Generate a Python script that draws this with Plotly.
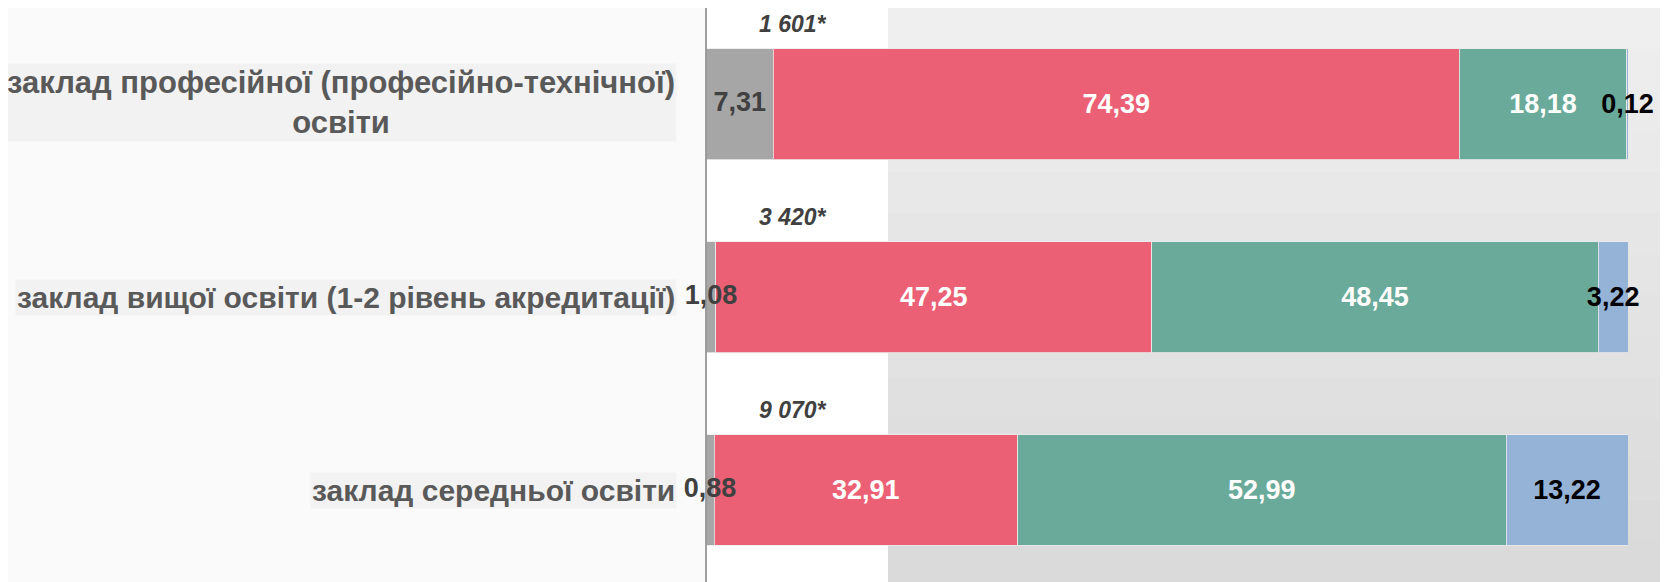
import plotly.graph_objects as go

# categories (top to bottom), share values in %
categories = [
    "заклад професійної (професійно-технічної)<br>освіти",
    "заклад вищої освіти (1-2 рівень акредитації)",
    "заклад середньої освіти",
]
totals = ["1 601*", "3 420*", "9 070*"]
gray_vals = [7.31, 1.08, 0.88]
red_vals = [74.39, 47.25, 32.91]
green_vals = [18.18, 48.45, 52.99]
blue_vals = [0.12, 3.22, 13.22]

FONT = "Liberation Sans, Arial, sans-serif"


def fmt(v):
    return f"{v:.2f}".replace(".", ",")


ypos = list(range(len(categories)))

# (values, bar colour, label colour, show label inside bar)
series = [
    (gray_vals, "#a6a6a6", "#404040", False),
    (red_vals, "#ec6075", "white", True),
    (green_vals, "#6aaa9a", "white", True),
    (blue_vals, "#95b3d7", "black", True),
]

fig = go.Figure()
for vals, color, tcolor, inside in series:
    fig.add_trace(go.Bar(
        x=vals, y=ypos, orientation="h", width=0.575,
        marker=dict(color=color, line=dict(color="rgba(235,235,235,0.8)", width=1)),
        text=[fmt(v) for v in vals] if inside else None,
        textposition="inside" if inside else "none", textangle=0,
        insidetextanchor="middle", constraintext="none", cliponaxis=False,
        textfont=dict(color=tcolor, family=FONT, size=27, weight="bold"),
        hoverinfo="skip",
    ))

# grey-segment labels drawn on top of the other bars
fig.add_trace(go.Scatter(
    x=[v / 2 for v in gray_vals], y=ypos, mode="text",
    text=[fmt(v) for v in gray_vals], textposition="middle center",
    textfont=dict(color="#404040", family=FONT, size=27, weight="bold"),
    cliponaxis=False, hoverinfo="skip",
))

# page offsets: the figure sits 8px inside the page
L, PW = 698, 922
shapes = []
gx0 = (880 - L) / PW
gx1 = (1660 - L) / PW
n = 14
for i in range(n):
    c = int(239 - (239 - 218) * i / (n - 1))
    shapes.append(dict(type="rect", xref="paper", yref="paper", x0=gx0, x1=gx1,
                       y0=1 - (i + 1) / n, y1=1 - i / n,
                       fillcolor=f"rgb({c},{c},{c})", line_width=0, layer="below"))
# white strip next to axis
shapes.append(dict(type="rect", xref="paper", yref="paper", x0=0, x1=gx0,
                   y0=0, y1=1, fillcolor="white", line_width=0, layer="below"))
# vertical axis line
shapes.append(dict(type="line", xref="paper", yref="paper", x0=0, x1=0, y0=0, y1=1,
                   line=dict(color="#808080", width=1.5), layer="above"))

annotations = []
shifts = [2, 0, 0]
label_sizes = [31, 30, 30]
for i, cat in enumerate(categories):
    annotations.append(dict(
        x=-0.0315, y=i, xref="paper", yref="y", xanchor="right", yanchor="middle",
        text=f"<b>{cat}</b>", showarrow=False, align="center", yshift=shifts[i],
        font=dict(family=FONT, size=label_sizes[i], color="#595959"),
        bgcolor="#f2f2f2", borderpad=1,
    ))
    annotations.append(dict(
        x=0.094, y=i, xref="paper", yref="y", xanchor="center", yanchor="middle",
        text=f"<b><i>{totals[i]}</i></b>", showarrow=False, yshift=80,
        font=dict(family=FONT, size=23, color="#404040"),
    ))

fig.update_layout(
    width=1660, height=574,
    barmode="stack", showlegend=False,
    margin=dict(l=L, r=40, t=0, b=0),
    paper_bgcolor="#fafafa", plot_bgcolor="rgba(0,0,0,0)",
    xaxis=dict(range=[0, 100], visible=False, fixedrange=True),
    yaxis=dict(range=[2.477, -0.50], visible=False, fixedrange=True),
    shapes=shapes, annotations=annotations,
)

fig.write_html("out.html")
